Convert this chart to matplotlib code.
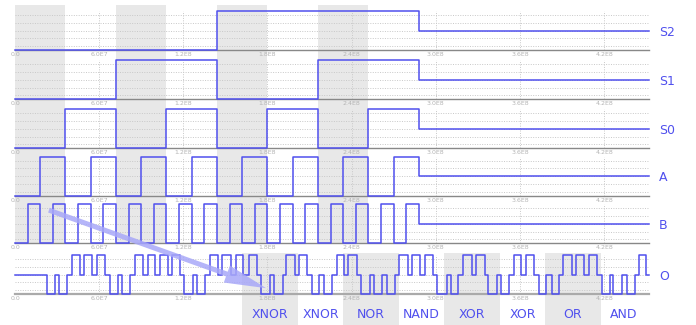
import numpy as np
import matplotlib
matplotlib.use("Agg")
import matplotlib.pyplot as plt
from matplotlib.patches import ConnectionPatch

UNIT = 9e6          # one input combination (B half period)
T_END = 4.52e8

row_names = ["S2", "S1", "S0", "A", "B", "O"]

# step waveforms: level of each UNIT-long slot, then X (0.5) after the sweep
s2_vals = [0] * 16 + [1] * 16
s1_vals = ([0] * 8 + [1] * 8) * 2
s0_vals = ([0] * 4 + [1] * 4) * 4
a_vals = ([0] * 2 + [1] * 2) * 8
b_vals = [0, 1] * 16
x_level = 0.5

# output O: start time (in UNITs) and level of each piece
o_t = [0, 2.5, 3.15, 3.5, 4.15, 4.5, 5.15, 5.5, 6.1, 6.5, 7.1, 7.5, 8.15, 8.5,
       9.1, 9.5, 10.15, 10.5, 11.1, 11.5, 12.1, 12.45, 13.1, 13.4, 14.1, 14.45,
       15.05, 15.42, 16.05, 16.42, 17.1, 17.5, 18.1, 18.5, 19.2, 19.5, 20.2,
       20.5, 21.2, 21.5, 22.2, 22.5, 23.1, 23.5, 24.1, 24.45, 25.1, 25.5, 26.1,
       26.4, 27.1, 27.4, 28.1, 28.45, 29.1, 29.45, 30.1, 30.45, 31.1, 31.45,
       32.1, 32.45, 33.1, 33.45, 34.2, 34.5, 35.1, 35.5, 36.2, 36.5, 37.2, 37.5,
       38.2, 38.5, 39.1, 39.5, 40.1, 40.5, 41.1, 41.5, 42.1, 42.5, 43.1, 43.4,
       44.1, 44.4, 45.1, 45.5, 46.1, 46.5, 47.1, 47.4, 48.1, 48.5, 49.1, 49.4,
       50.0]
o_v = [0.5, 0, 0.5, 0, 0.5, 1, 0.5, 1, 0.5, 1, 0.5, 0, 0.5, 0,
       0.5, 1, 0.5, 1, 0.5, 1, 0.5, 1, 0.5, 0, 0.5, 0,
       0.5, 1, 0.5, 1, 0.5, 1, 0.5, 1, 0.5, 0, 0.5,
       0, 0.5, 1, 0.5, 1, 0.5, 0, 0.5, 0, 0.5, 1, 0.5,
       1, 0.5, 0, 0.5, 0, 0.5, 0, 0.5, 1, 0.5, 1,
       0.5, 1, 0.5, 0, 0.5, 0, 0.5, 1, 0.5, 1, 0.5, 0,
       0.5, 0, 0.5, 1, 0.5, 1, 0.5, 0, 0.5, 0, 0.5, 1,
       0.5, 1, 0.5, 1, 0.5, 0, 0.5, 0, 0.5, 0, 0.5, 1,
       0.5]

tick_pos = [0, 6e7, 1.2e8, 1.8e8, 2.4e8, 3.0e8, 3.6e8, 4.2e8]
tick_lbl = ["0.0", "6.0E7", "1.2E8", "1.8E8", "2.4E8", "3.0E8", "3.6E8", "4.2E8"]

gate_names = ["XNOR", "XNOR", "NOR", "NAND", "XOR", "XOR", "OR", "AND"]
gate_first = 18.0      # first output window start, in UNITs
gate_len = 4.4         # window length, in UNITs (windows every 4 UNITs)

BLUE = "#5050ee"
BAND = "#e8e8e8"
GRID = "#c8c8c8"

W, H = 696, 325
fig = plt.figure(figsize=(W / 100, H / 100), dpi=100)

LEFT, RIGHT = 15, 649
row_tops = [5, 50, 99.3, 148.3, 195.7, 243.3]
row_bots = [50, 99.3, 148.3, 195.7, 243.3, 294]
PX_PER_LEVEL = 39.0


def box(top, bottom):
    return [LEFT / W, 1 - bottom / H, (RIGHT - LEFT) / W, (bottom - top) / H]


def slots_to_step(vals):
    t = [i * UNIT for i in range(len(vals))] + [len(vals) * UNIT, T_END]
    v = list(vals) + [x_level, x_level]
    return t, v


# background bands where S0 is low
band_starts = [i * UNIT for i, v in enumerate(s0_vals) if v == 0 and (i == 0 or s0_vals[i - 1] == 1)]

signals = [slots_to_step(s2_vals), slots_to_step(s1_vals), slots_to_step(s0_vals),
           slots_to_step(a_vals), slots_to_step(b_vals),
           ([t * UNIT for t in o_t] + [T_END], o_v + [o_v[-1]])]

axes = []
for i, name in enumerate(row_names):
    top, bot = row_tops[i], row_bots[i]
    ax = fig.add_axes(box(top, bot))
    ax.set_zorder(10 - i)
    ax.patch.set_visible(False)
    ax.set_xlim(0, T_END)
    ax.set_ylim(0, (bot - top) / PX_PER_LEVEL)
    for s in ["top", "left", "right"]:
        ax.spines[s].set_visible(False)
    if name == "O":
        ax.spines["bottom"].set_color("#aaaaaa")
        ax.spines["bottom"].set_linewidth(1.6)
    else:
        ax.spines["bottom"].set_color("#888888")
        ax.spines["bottom"].set_linewidth(1.0)
    ax.set_yticks([])
    ax.set_xticks(tick_pos)
    ax.set_xticklabels(tick_lbl)
    ax.tick_params(axis="x", length=0, pad=1.5, labelsize=4.5, labelcolor="#b4b4b4")

    if name != "O":
        for b0 in band_starts:
            ax.axvspan(b0, b0 + 4 * UNIT, color=BAND, lw=0, zorder=0)

    ax.hlines([0.1, 0.3, 0.5, 0.7, 0.9], 0, T_END, colors=GRID, linestyles=(0, (1, 1.5)), lw=0.7, zorder=1)
    ax.vlines(tick_pos[1:], 0, 1.0, colors=GRID, linestyles=(0, (1, 1.5)), lw=0.7, zorder=1)

    t, v = signals[i]
    ax.step(t, v, where="post", color=BLUE, lw=1.1, zorder=3, clip_on=False)

    fig.text(659 / W, 1 - (bot - 0.46 * PX_PER_LEVEL) / H, name, color=BLUE,
             fontsize=9, va="center", ha="left")
    axes.append(ax)

# gate label strip under the output row
ax_lab = fig.add_axes(box(243.3, H))
ax_lab.set_zorder(0)
ax_lab.set_xlim(0, T_END)
ax_lab.set_ylim(H, 243.3)
ax_lab.axis("off")
for k, g in enumerate(gate_names):
    x0 = (gate_first + 4 * k) * UNIT
    x1 = x0 + gate_len * UNIT
    if k % 2 == 0:
        ax_lab.axvspan(x0, x1, ymin=0, ymax=(H - 253) / (H - 243.3),
                       color=BAND, lw=0, zorder=0)
    ax_lab.text((x0 + x1) / 2, 314, g, color=BLUE, fontsize=9, ha="center", va="center")

# pointer arrow from B row to output row
con = ConnectionPatch(xyA=(2.42e7, 0.85), coordsA=axes[4].transData,
                      xyB=(1.79e8, 0.15), coordsB=axes[5].transData,
                      arrowstyle="simple,head_length=30,head_width=13,tail_width=3.6",
                      mutation_scale=1, color="#a8a8f8", alpha=0.85, lw=0,
                      shrinkA=0, shrinkB=0, zorder=100)
fig.add_artist(con)

fig.savefig("out.png", dpi=100)
